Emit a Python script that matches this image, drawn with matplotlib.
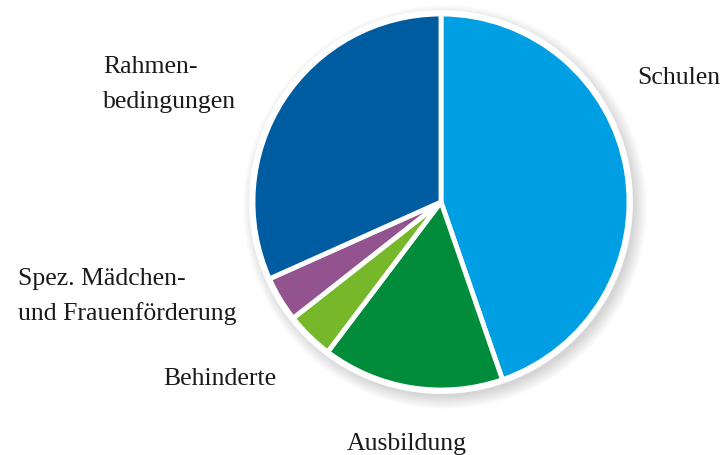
import matplotlib.pyplot as plt
from matplotlib.patches import Circle

# Anteile in Prozent (geschaetzt aus der Grafik)
categories = ["Schulen", "Ausbildung", "Behinderte",
              "Spez. Mädchen- und Frauenförderung", "Rahmenbedingungen"]
shares = [44.7, 15.6, 4.1, 3.9, 31.7]
colors = ["#009ee2", "#008c3a", "#76b82a", "#92538f", "#005ca0"]

# Beschriftungen (Zeilen, linke Kante x, Grundlinie der ersten Zeile y in Pixeln)
label_lines = [["Schulen"], ["Ausbildung"], ["Behinderte"],
               ["Spez. Mädchen-", "und Frauenförderung"], ["Rahmen-", "bedingungen"]]
label_pos = [(637, 84), (347, 450), (163, 385), (18, 285), (103, 73)]

W, H = 725, 456
fig = plt.figure(figsize=(W / 100, H / 100), dpi=100)
ax = fig.add_axes([0, 0, 1, 1])

cx, cy, r = 441, 203, 188

# weicher Schatten
for k in range(14):
    ax.add_patch(Circle((cx + 4, cy + 5), r + 14 - k, color="black",
                        alpha=0.012, lw=0, zorder=0))

# y-Achse zeigt nach unten: startangle=-90 ist oben, counterclock=True laeuft optisch im Uhrzeigersinn
ax.pie(shares, colors=colors, startangle=-90, counterclock=True,
       center=(cx, cy), radius=r, frame=True,
       wedgeprops=dict(edgecolor="white", linewidth=3.5))
ax.add_patch(Circle((cx, cy), r + 1.5, fill=False, ec="white", lw=3.5, zorder=5))

ax.set_xlim(0, W)
ax.set_ylim(H, 0)
ax.set_aspect("equal")
ax.set_axis_off()

for lines, (x, y) in zip(label_lines, label_pos):
    for i, line in enumerate(lines):
        ax.text(x, y + i * 35, line, ha="left", va="baseline",
                fontsize=18.5, family="Liberation Serif", color="#1a1a1a")

fig.savefig("out.png", dpi=100)
